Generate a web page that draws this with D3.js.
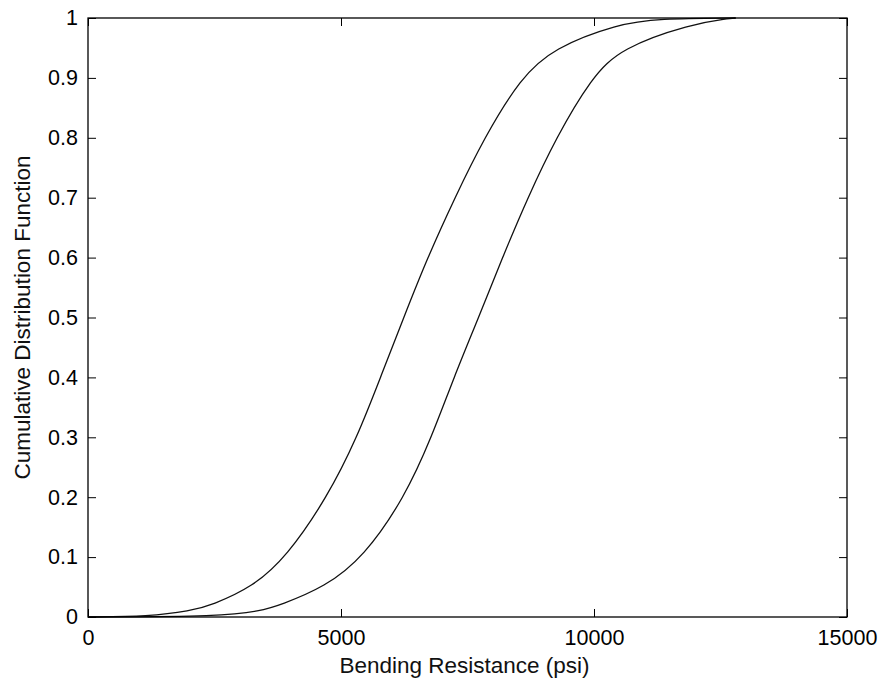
<!DOCTYPE html>
<html>
<head>
<meta charset="utf-8">
<script src="https://cdn.jsdelivr.net/npm/d3@7"></script>
<style>
  html, body { margin: 0; padding: 0; background: #fff; }
  #chart { width: 881px; height: 682px; }
  .axis text { font-family: Arial, "Liberation Sans", sans-serif; font-size: 21.5px; fill: #000; }
  .axis-label { font-family: Arial, "Liberation Sans", sans-serif; font-size: 22.5px; fill: #111; }
  .line-path { fill: none; stroke: #111; stroke-width: 1.3; }
  .frame { fill: none; stroke: #000; stroke-width: 1.3; }
</style>
</head>
<body>
<div id="chart"></div>
<script>
// values: psi at given cumulative probabilities
const cdfLevels = [0, 0.001, 0.01, 0.02, 0.05, 0.1, 0.2, 0.3, 0.4, 0.5, 0.6, 0.7, 0.8, 0.9, 0.95, 0.99, 0.999, 1];
const lowerCurveX = [0, 1200, 2020, 2450, 3250, 3920, 4730, 5320, 5780, 6240, 6710, 7250, 7830, 8550, 9200, 10470, 11270, 12800];
const upperCurveX = [0, 2650, 3400, 3800, 4680, 5450, 6260, 6790, 7230, 7720, 8190, 8690, 9250, 9950, 10530, 11920, 12650, 12800];

const xTicks = [0, 5000, 10000, 15000];
const yTicks = [0, 0.1, 0.2, 0.3, 0.4, 0.5, 0.6, 0.7, 0.8, 0.9, 1];

const xLabel = 'Bending Resistance (psi)';
const yLabel = 'Cumulative Distribution Function';

const margin = { left: 88, top: 18, right: 34, bottom: 65 };
const outerWidth = 881;
const outerHeight = 682;
const width = outerWidth - margin.left - margin.right;
const height = outerHeight - margin.top - margin.bottom;
const tickLen = 8;

const x = d3.scaleLinear().domain([0, 15000]).range([0, width]);
const y = d3.scaleLinear().domain([0, 1]).range([height, 0]);

const svg = d3.select('#chart').append('svg')
    .attr('width', outerWidth)
    .attr('height', outerHeight)
  .append('g')
    .attr('transform', `translate(${margin.left}, ${margin.top})`);

// smooth spline through the read points
const line = d3.line()
  .x((d) => x(d.v))
  .y((d) => y(d.p))
  .curve(d3.curveBasis);

const toPoints = (xs) => xs.map((v, i) => ({ v, p: cdfLevels[i] }));

[lowerCurveX, upperCurveX].forEach((xs) => {
  svg.append('path')
    .attr('class', 'line-path')
    .datum(toPoints(xs))
    .attr('d', line);
});

// bottom axis with labels, inward ticks
svg.append('g')
  .attr('class', 'x-axis axis')
  .attr('transform', `translate(0, ${height})`)
  .call(d3.axisBottom(x).tickValues(xTicks).tickSize(-tickLen).tickPadding(13).tickFormat(d3.format('d')))
  .call((g) => g.select('.domain').remove())
  .call((g) => g.selectAll('line').attr('stroke', '#000'));

// top ticks, no labels
svg.append('g')
  .attr('class', 'axis')
  .call(d3.axisTop(x).tickValues(xTicks).tickSize(-tickLen).tickFormat(''))
  .call((g) => g.select('.domain').remove())
  .call((g) => g.selectAll('line').attr('stroke', '#000'));

// left axis with labels
svg.append('g')
  .attr('class', 'y-axis axis')
  .call(d3.axisLeft(y).tickValues(yTicks).tickSize(-tickLen).tickPadding(10).tickFormat((d) => `${+d.toFixed(1)}`))
  .call((g) => g.select('.domain').remove())
  .call((g) => g.selectAll('line').attr('stroke', '#000'));

// right ticks
svg.append('g')
  .attr('class', 'axis')
  .attr('transform', `translate(${width}, 0)`)
  .call(d3.axisRight(y).tickValues(yTicks).tickSize(-tickLen).tickFormat(''))
  .call((g) => g.select('.domain').remove())
  .call((g) => g.selectAll('line').attr('stroke', '#000'));

svg.append('rect')
  .attr('class', 'frame')
  .attr('width', width)
  .attr('height', height);

svg.append('text')
  .attr('class', 'axis-label')
  .attr('x', width / 2 - 3)
  .attr('y', height + 56)
  .attr('text-anchor', 'middle')
  .text(xLabel);

svg.append('text')
  .attr('class', 'axis-label')
  .attr('transform', `translate(${-58}, ${height / 2}) rotate(-90)`)
  .attr('text-anchor', 'middle')
  .text(yLabel);
</script>
</body>
</html>
